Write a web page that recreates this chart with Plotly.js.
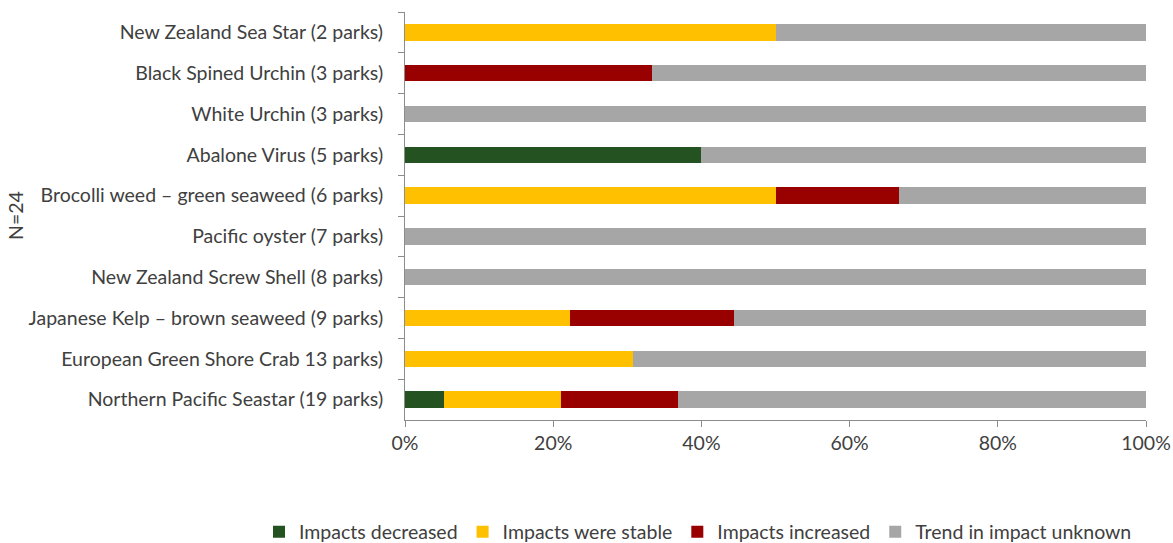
<!DOCTYPE html>
<html>
<head>
<meta charset="utf-8">
<script src="https://cdn.plot.ly/plotly-3.0.1.min.js"></script>
<style>html,body{margin:0;padding:0;background:#fff;}#chart{width:1173px;height:543px;}</style>
</head>
<body>
<div id="chart"></div>
<script>
const categories = [
  "New Zealand Sea Star (2 parks)",
  "Black Spined Urchin (3 parks)",
  "White Urchin (3 parks)",
  "Abalone Virus (5 parks)",
  "Brocolli weed \u2013 green seaweed (6 parks)",
  "Pacific oyster (7 parks)",
  "New Zealand Screw Shell (8 parks)",
  "Japanese Kelp \u2013 brown seaweed (9 parks)",
  "European Green Shore Crab 13 parks)",
  "Northern Pacific Seastar (19 parks)"
];
const decreased = [0, 0, 0, 0.40, 0, 0, 0, 0, 0, 0.0526];
const stable    = [0.50, 0, 0, 0, 0.50, 0, 0, 0.2222, 0.3077, 0.1579];
const increased = [0, 0.3333, 0, 0, 0.1667, 0, 0, 0.2222, 0, 0.1579];
const unknown   = [0.50, 0.6667, 1.0, 0.60, 0.3333, 1.0, 1.0, 0.5556, 0.6923, 0.6316];
const seriesNames = ["Impacts decreased", "Impacts were stable", "Impacts increased", "Trend in impact unknown"];
const seriesColors = ["#245221", "#FFC000", "#990000", "#A6A6A6"];
const yTitle = "N=24";

const seriesValues = [decreased, stable, increased, unknown];
const traces = seriesValues.map((vals, i) => ({
  type: "bar",
  orientation: "h",
  name: seriesNames[i],
  x: vals,
  y: categories,
  marker: {color: seriesColors[i]},
  hoverinfo: "x+y+name"
}));

const FF = "Lato, Carlito, sans-serif";
const FS = 19.5;
const TXT = "#404040";
const layout = {
  width: 1173, height: 543,
  margin: {l: 405, r: 27, t: 12, b: 123, autoexpand: false},
  barmode: "stack",
  bargap: 0.6,
  paper_bgcolor: "#fff",
  plot_bgcolor: "#fff",
  font: {family: FF, size: FS, color: TXT},
  showlegend: true,
  legend: {
    orientation: "h",
    x: (259 - 405) / 741, xanchor: "left",
    y: (420 - 532) / 408, yanchor: "middle",
    font: {family: FF, size: FS, color: TXT},
    traceorder: "normal",
    itemwidth: 30,
    bgcolor: "rgba(0,0,0,0)"
  },
  xaxis: {
    range: [0, 1],
    tickvals: [0, 0.2, 0.4, 0.6, 0.8, 1.0],
    tickformat: ".0%",
    showgrid: false,
    zeroline: false,
    showline: true,
    linecolor: "#8C8C8C",
    linewidth: 1,
    ticks: "outside",
    ticklen: 6,
    tickcolor: "#8C8C8C",
    tickfont: {family: FF, size: FS, color: TXT},
    fixedrange: true
  },
  yaxis: {
    type: "category",
    categoryorder: "array",
    categoryarray: categories,
    autorange: "reversed",
    showgrid: false,
    zeroline: false,
    showline: true,
    linecolor: "#8C8C8C",
    linewidth: 1,
    ticks: "outside",
    tickson: "boundaries",
    ticklen: 6,
    tickcolor: "#8C8C8C",
    ticklabelstandoff: 17,
    tickfont: {family: FF, size: FS, color: TXT},
    fixedrange: true
  },
  annotations: [{
    text: yTitle,
    xref: "paper", yref: "paper",
    x: (15 - 405) / 741, y: 0.5,
    xanchor: "center", yanchor: "middle",
    textangle: -90,
    showarrow: false,
    font: {family: FF, size: FS, color: TXT}
  }]
};

Plotly.newPlot("chart", traces, layout, {displayModeBar: false});
</script>
</body>
</html>
